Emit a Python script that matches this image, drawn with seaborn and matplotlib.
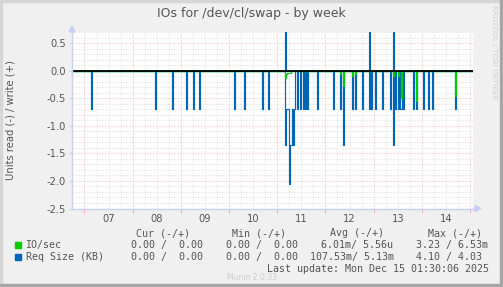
import numpy as np
import pandas as pd
import matplotlib
matplotlib.use("Agg")
import matplotlib.pyplot as plt
import seaborn as sns
from matplotlib.patches import Rectangle, Polygon

# ---------------- data (days of Dec 2025, fractional) ----------------
req_read_day = [7.156, 8.473, 8.836, 9.127, 9.272, 9.396, 10.102, 10.309, 10.683, 10.807,
                11.167, 11.188, 11.208, 11.229, 11.250, 11.271, 11.292, 11.313, 11.333, 11.354,
                11.419, 11.469, 11.533, 11.585, 11.633, 11.830,
                12.172, 12.311, 12.384, 12.560, 12.622, 12.768, 12.909, 12.965,
                13.048, 13.183, 13.349, 13.407, 13.463, 13.515, 13.556, 13.587, 13.618,
                13.836, 13.888, 14.033, 14.147, 14.230, 14.718]
req_read_val = [0.69, 0.69, 0.69, 0.69, 0.69, 0.69, 0.69, 0.69, 0.69, 0.69,
                1.35, 0.69, 0.69, 0.69, 2.05, 1.35, 1.35, 0.69, 1.35, 0.69,
                0.69, 0.69, 0.69, 0.69, 0.69, 0.69,
                0.69, 0.69, 1.35, 0.69, 0.69, 0.69, 0.69, 0.69,
                0.69, 0.69, 0.69, 1.35, 0.69, 0.69, 0.69, 0.69, 0.69,
                0.69, 0.69, 0.69, 0.69, 0.69, 0.69]
req_write_day = [11.167, 12.909, 13.407]
req_write_val = [0.70, 0.70, 0.70]
io_read_day = [11.167, 11.188, 11.208, 11.229, 11.250, 11.271,
               12.311, 12.384, 12.560, 12.622, 13.407, 13.515, 13.587, 13.888, 14.718]
io_read_val = [0.13, 0.05, 0.03, 0.03, 0.03, 0.03,
               0.05, 0.28, 0.10, 0.05, 0.10, 0.10, 0.50, 0.55, 0.45]
io_write_day = []
io_write_val = []

day_ticks = [7.5, 8.5, 9.5, 10.5, 11.5, 12.5, 13.5, 14.5]
day_labels = ["07", "08", "09", "10", "11", "12", "13", "14"]
y_ticks = [0.5, 0.0, -0.5, -1.0, -1.5, -2.0, -2.5]

legend_names = ["IO/sec", "Req Size (KB)"]
legend_colors = ["#00cc00", "#0066b3"]
col_headers = ["Cur (-/+)", "Min (-/+)", "Avg (-/+)", "Max (-/+)"]
cur_vals = ["0.00 /  0.00", "0.00 /  0.00"]
min_vals = ["0.00 /  0.00", "0.00 /  0.00"]
avg_vals = ["6.01m/ 5.56u", "107.53m/ 5.13m"]
max_vals = ["3.23 / 6.53m", "4.10 / 4.03"]

# ---------------- build 30-minute series ----------------
t0 = 6.75
n = 400
days = t0 + np.arange(n) / 48.0


def series(d, v):
    s = np.zeros(n)
    if len(d):
        idx = np.rint((np.asarray(d) - t0) * 48).astype(int)
        s[idx] = v
    return s


df = pd.DataFrame({
    "day": days,
    "req_read": -series(req_read_day, req_read_val),
    "req_write": series(req_write_day, req_write_val),
    "io_read": -series(io_read_day, io_read_val),
    "io_write": series(io_write_day, io_write_val),
})

# ---------------- figure ----------------
W, H = 503, 287
fig = plt.figure(figsize=(W / 100, H / 100), dpi=100, facecolor="#f0f0f0")


def fx(x):
    return x / W


def fy(y):
    return 1 - y / H


TXT = "#555555"
AXC = "#c8d0f4"
MONO = "DejaVu Sans Mono"

ax = fig.add_axes([fx(72), fy(208.5), fx(473) - fx(72), fy(32.2) - fy(208.5)])
ax.set_facecolor("white")
ax.set_xlim(6.741, 15.0625)
ax.set_ylim(-2.5, 0.705)

# grid
dot = (0, (1, 2))
GRAY = "#dadada"
RED = "#f5b0b0"
for v in np.arange(-2.4, 0.71, 0.1):
    if abs(v / 0.5 - round(v / 0.5)) > 1e-6:
        ax.axhline(v, color=GRAY, lw=0.72, ls=dot, zorder=0.5)
for v in [0.5, 0.0, -0.5, -1.0, -1.5, -2.0]:
    ax.axhline(v, color=RED, lw=0.72, ls=dot, zorder=0.6)
for v in np.arange(6.75, 15.01, 0.25):
    if abs(v - round(v)) > 1e-6:
        ax.axvline(v, color=GRAY, lw=0.72, ls=dot, zorder=0.5)
for v in range(7, 16):
    ax.axvline(v, color=RED, lw=0.72, ls=dot, zorder=0.6)

# data
kw = dict(estimator=None, sort=False, drawstyle="steps-mid", lw=0.85, ax=ax)
sns.lineplot(data=df, x="day", y="req_read", color=legend_colors[1], zorder=3, **kw)
sns.lineplot(data=df, x="day", y="req_write", color=legend_colors[1], zorder=3, **kw)
sns.lineplot(data=df, x="day", y="io_read", color=legend_colors[0], zorder=4, **kw)
sns.lineplot(data=df, x="day", y="io_write", color=legend_colors[0], zorder=4, **kw)
ax.axhline(0, color="black", lw=1.3, zorder=6)

ax.set_xlabel("")
ax.set_ylabel("")
for s in ["top", "right"]:
    ax.spines[s].set_visible(False)
for s in ["left", "bottom"]:
    ax.spines[s].set_color(AXC)
    ax.spines[s].set_linewidth(1.0)
    ax.spines[s].set_zorder(7)

ax.set_yticks(y_ticks)
ax.set_yticklabels([f"{v:.1f}" for v in y_ticks])
ax.tick_params(axis="y", length=2, color=AXC, pad=2.5, labelsize=7.1, labelcolor=TXT)
ax.set_xticks(day_ticks)
ax.set_xticklabels(day_labels)
ax.tick_params(axis="x", length=0, pad=4.0, labelsize=7.1, labelcolor=TXT)
ax.set_xticks(list(range(7, 16)), minor=True)
ax.tick_params(axis="x", which="minor", length=3, color=RED, width=0.72)

# arrows
fig.patches.append(Polygon([[fx(69), fy(32)], [fx(75), fy(32)], [fx(72), fy(26)]],
                           closed=True, transform=fig.transFigure, color=AXC))
fig.lines.append(plt.Line2D([fx(473), fx(476)], [fy(208.5), fy(208.5)],
                            transform=fig.transFigure, color=AXC, lw=1.0))
fig.patches.append(Polygon([[fx(475), fy(205.5)], [fx(475), fy(211.5)], [fx(481), fy(208.5)]],
                           closed=True, transform=fig.transFigure, color=AXC))

# texts
fig.text(fx(251.5), fy(14), "IOs for /dev/cl/swap - by week", ha="center", va="center",
         fontsize=9, color=TXT)
fig.text(fx(11), fy(120.5), "Units read (-) / write (+)", rotation=90, ha="center",
         va="center", fontsize=7.2, color=TXT)
fig.text(fx(494), fy(5), "RRDTOOL / TOBI OETIKER", rotation=270, ha="center", va="top",
         fontsize=5.3, color="#cfcfcf")

hx = [136.0, 232.5, 330.0, 428.5]
for x, t in zip(hx, col_headers):
    fig.text(fx(x), fy(233.5), t, ha="left", va="center", fontsize=7.2, family=MONO, color=TXT)

rows_y = [245.0, 257.0]
for i in range(2):
    y = rows_y[i]
    fig.patches.append(Rectangle((fx(14.5), fy(y + 3)), 6 / W, 6 / H,
                                 transform=fig.transFigure, color=legend_colors[i]))
    fig.text(fx(25.5), fy(y), legend_names[i], ha="left", va="center", fontsize=7.2,
             family=MONO, color=TXT)
    fig.text(fx(131), fy(y), cur_vals[i], ha="left", va="center", fontsize=7.2, family=MONO, color=TXT)
    fig.text(fx(226), fy(y), min_vals[i], ha="left", va="center", fontsize=7.2, family=MONO, color=TXT)
    ax_x = 321.0 if i == 0 else 309.5
    fig.text(fx(ax_x), fy(y), avg_vals[i], ha="left", va="center", fontsize=7.2, family=MONO, color=TXT)
    fig.text(fx(415.5), fy(y), max_vals[i], ha="left", va="center", fontsize=7.2, family=MONO, color=TXT)

fig.text(fx(267), fy(269), "Last update: Mon Dec 15 01:30:06 2025", ha="left", va="center",
         fontsize=7.2, family=MONO, color=TXT)
fig.text(fx(252), fy(277.5), "Munin 2.0.33", ha="center", va="center", fontsize=5.5,
         color="#cccccc")

# frame
fig.patches.append(Rectangle((0, fy(2)), 1, 2 / H, transform=fig.transFigure, color="#d6d6d6"))
fig.patches.append(Rectangle((0, 0), 2 / W, 1, transform=fig.transFigure, color="#d6d6d6"))
fig.patches.append(Rectangle((0, 0), 1, 3 / H, transform=fig.transFigure, color="#a6a6a6"))
fig.patches.append(Rectangle((fx(500), 0), 3 / W, 1, transform=fig.transFigure, color="#a6a6a6"))

fig.savefig("out.png", dpi=100, facecolor=fig.get_facecolor())
